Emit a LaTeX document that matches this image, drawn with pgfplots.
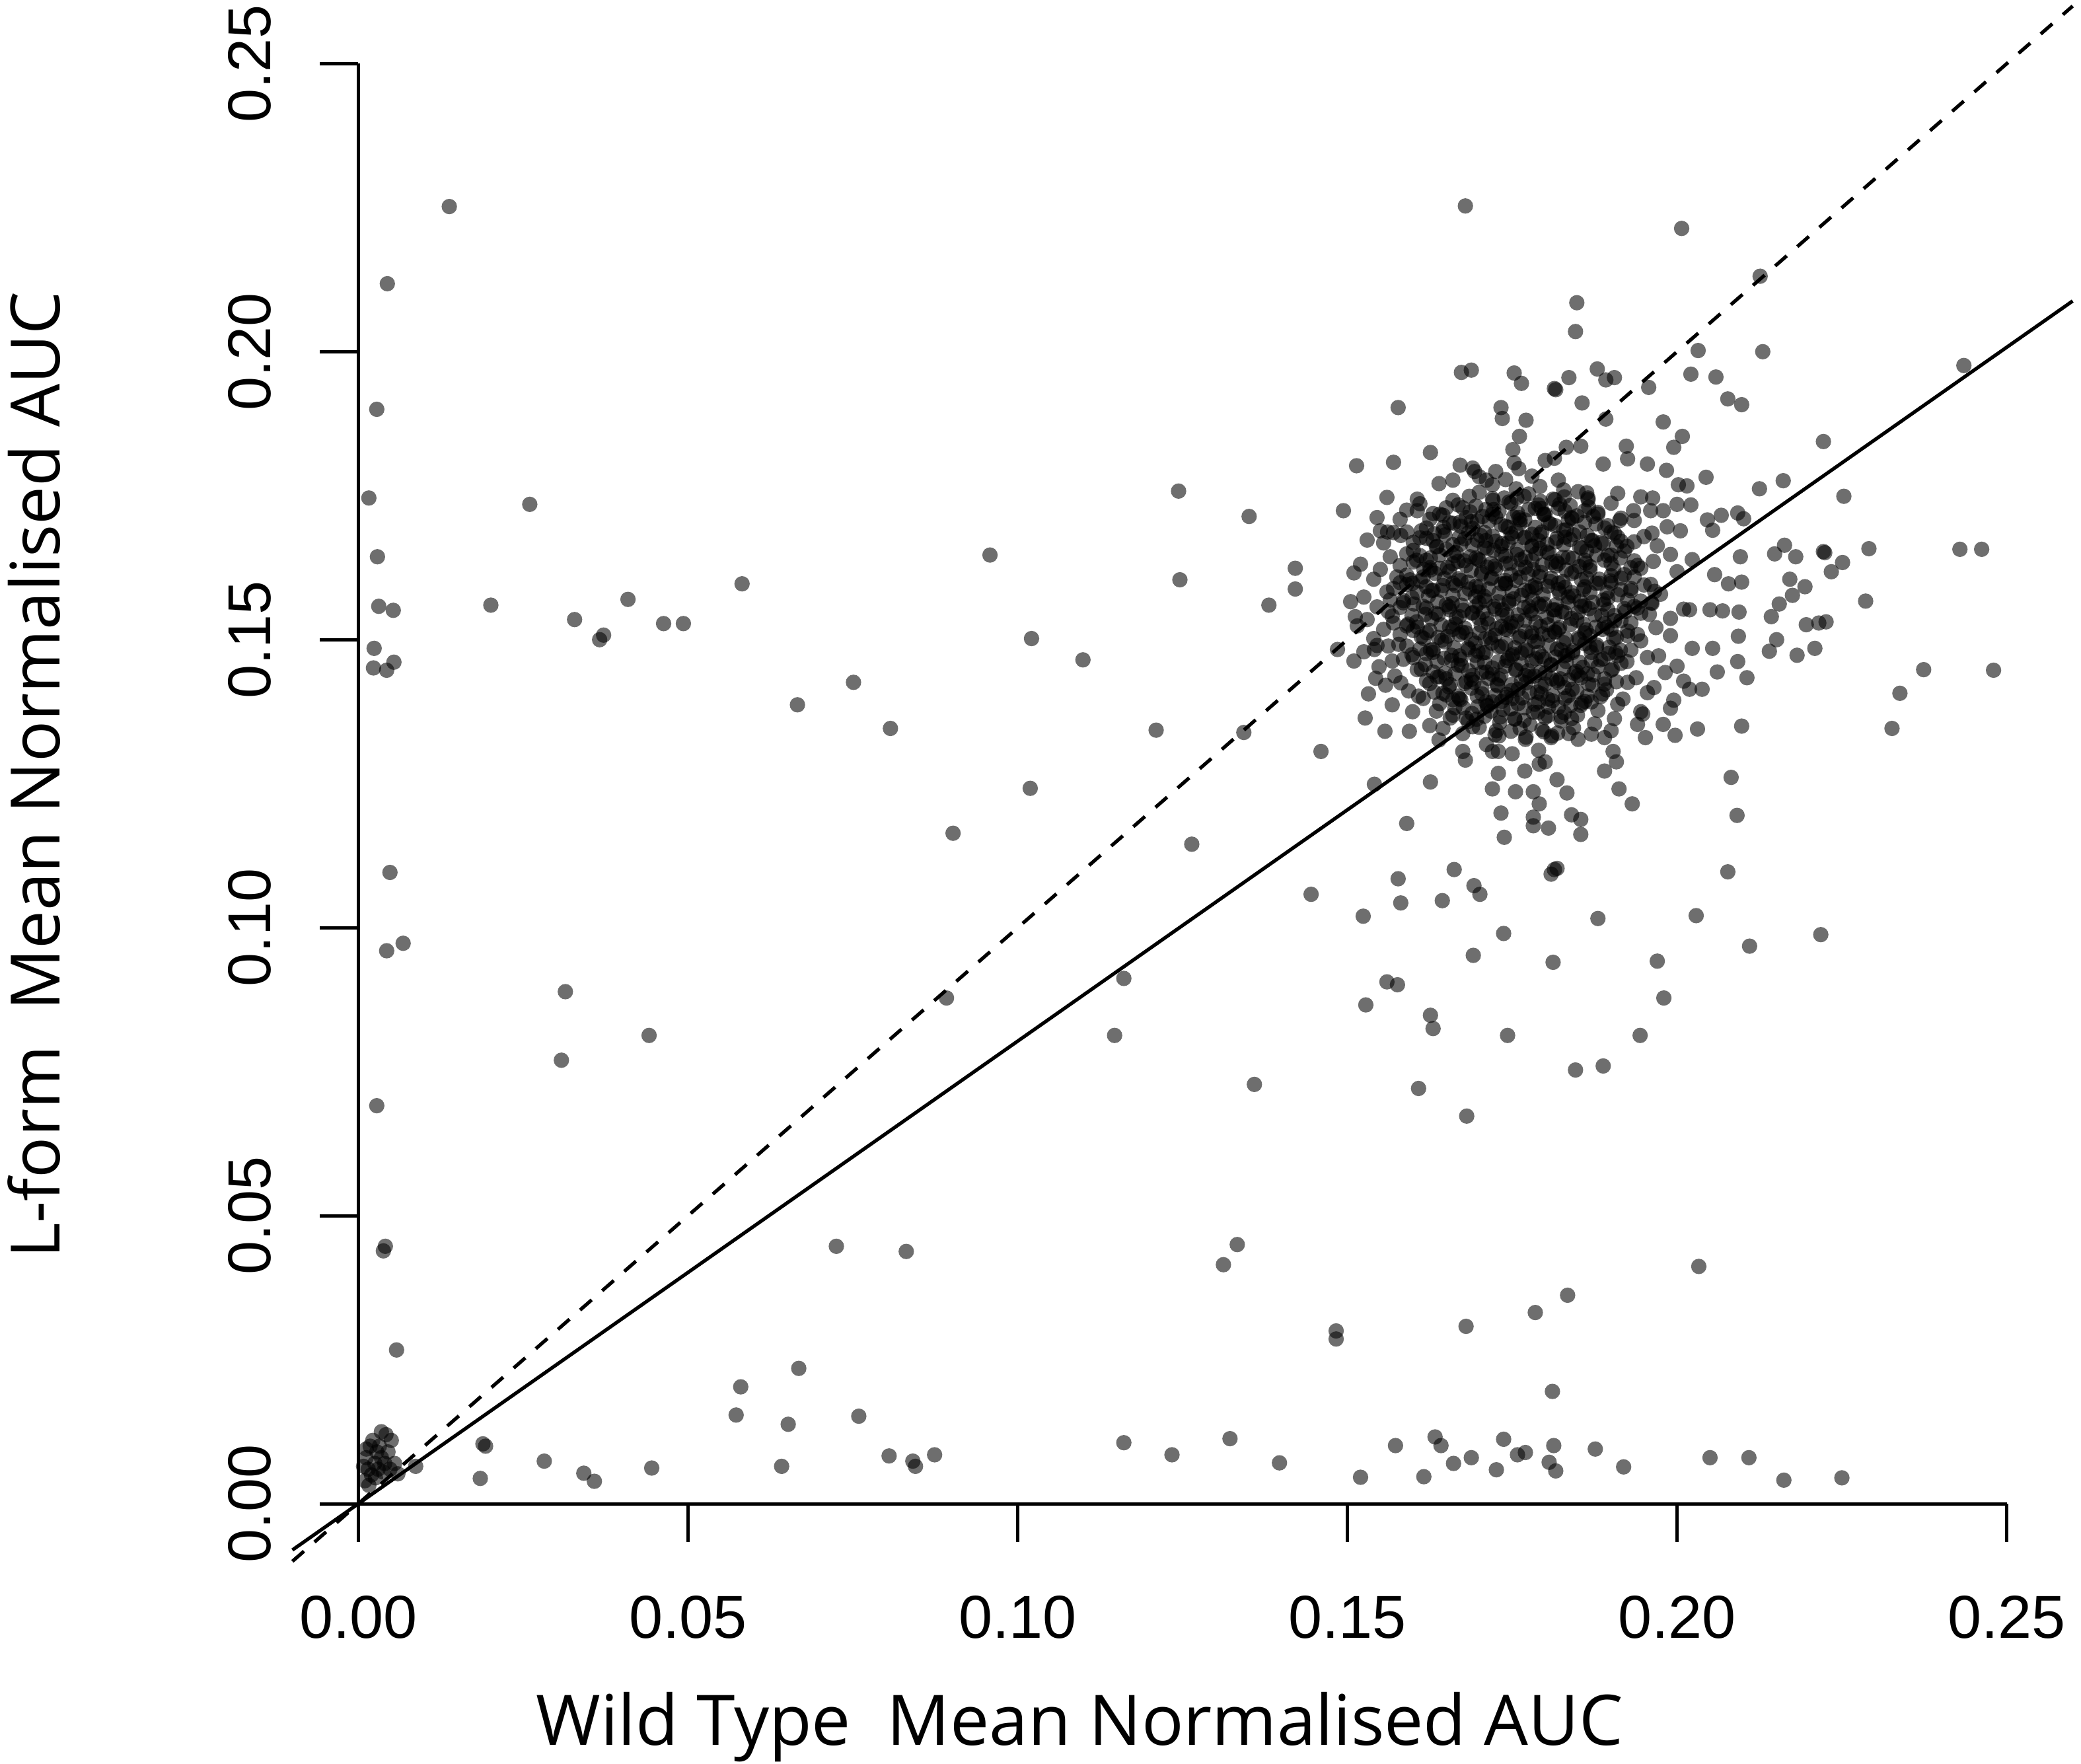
\documentclass[border=0pt]{standalone}
\usepackage{pgfplots}
\pgfplotsset{compat=1.18}
\usepackage{fontspec}
\setmainfont{Liberation Sans}
\newfontfamily\titlefont{Open Sans}
\newcommand{\tickfont}{\fontsize{13}{15}\selectfont}
\newcommand{\labfont}{\titlefont\fontsize{14.6}{17}\selectfont}
\newcommand{\xlabfont}{\titlefont\fontsize{14.95}{17}\selectfont}
\begin{document}
\begin{tikzpicture}
\useasboundingbox (0,0) rectangle (15.68cm,13.29cm);
\begin{axis}[at={(2.203cm,1.526cm)}, anchor=south west, scale only axis,
  width=13.414cm, height=11.718cm,
  xmin=-0.01, xmax=0.26, ymin=-0.01, ymax=0.26,
  axis line style={draw=none}, ticks=none, clip=false]
\addplot[only marks, mark=*, mark size=1.65pt, mark options={draw opacity=0, line width=0pt, fill=black, fill opacity=0.57}] coordinates {
% near origin and left column
(0.0138,0.2252) (0.0044,0.2118) (0.0028,0.1900) (0.0016,0.1746) (0.0029,0.1644) (0.0031,0.1558) (0.0053,0.1551)
(0.0024,0.1485) (0.0023,0.1451) (0.0043,0.1447) (0.0054,0.1461) (0.0048,0.1096) (0.0043,0.0960) (0.0068,0.0973)
(0.0028,0.0691) (0.0038,0.0439) (0.0041,0.0447) (0.0058,0.0267)
(0.0010,0.0040) (0.0015,0.0060) (0.0012,0.0080) (0.0018,0.0100) (0.0020,0.0050) (0.0025,0.0070) (0.0028,0.0090)
(0.0022,0.0110) (0.0030,0.0060) (0.0035,0.0080) (0.0032,0.0100) (0.0040,0.0070) (0.0042,0.0120) (0.0045,0.0090)
(0.0050,0.0110) (0.0008,0.0065) (0.0016,0.0032) (0.0026,0.0045) (0.0038,0.0055) (0.0055,0.0070) (0.0060,0.0052)
(0.0048,0.0060) (0.0087,0.0065) (0.0035,0.0125) (0.0012,0.0095)
% scattered middle
(0.0260,0.1735) (0.0201,0.1560) (0.0328,0.1535) (0.0366,0.1500) (0.0372,0.1508) (0.0409,0.1570) (0.0463,0.1528)
(0.0493,0.1528) (0.0582,0.1597) (0.0958,0.1647) (0.0666,0.1387) (0.0751,0.1426) (0.0807,0.1346) (0.1021,0.1502)
(0.1099,0.1465) (0.1019,0.1242) (0.0902,0.1164) (0.1210,0.1343) (0.1244,0.1758) (0.1246,0.1604) (0.1264,0.1145)
(0.1351,0.1714) (0.1343,0.1339) (0.1381,0.1560) (0.1421,0.1624) (0.1421,0.1588) (0.1460,0.1306) (0.1445,0.1058)
(0.0892,0.0878) (0.0314,0.0889) (0.0308,0.0770) (0.0441,0.0813) (0.1161,0.0912) (0.1147,0.0813) (0.1359,0.0728)
(0.0725,0.0447) (0.0831,0.0438) (0.1333,0.0450) (0.1312,0.0415) (0.1483,0.0300) (0.1483,0.0286) (0.2033,0.0412)
(0.1680,0.0308) (0.1785,0.0332) (0.1834,0.0362) (0.1811,0.0195)
% bottom row
(0.0580,0.0203) (0.0573,0.0154) (0.0668,0.0235) (0.0652,0.0138) (0.0759,0.0152) (0.0642,0.0065) (0.0189,0.0104)
(0.0193,0.0100) (0.0185,0.0044) (0.0282,0.0074) (0.0342,0.0053) (0.0358,0.0039) (0.0445,0.0062) (0.0805,0.0083)
(0.0841,0.0074) (0.0845,0.0065) (0.0874,0.0085) (0.1161,0.0106) (0.1234,0.0085) (0.1322,0.0113) (0.1397,0.0071)
(0.1520,0.0046) (0.1573,0.0101) (0.1616,0.0047) (0.1633,0.0116) (0.1642,0.0101) (0.1661,0.0070) (0.1688,0.0080)
(0.1726,0.0059) (0.1737,0.0112) (0.1758,0.0085) (0.1770,0.0089) (0.1813,0.0101) (0.1806,0.0072) (0.1816,0.0057)
(0.1876,0.0095) (0.1919,0.0064) (0.2050,0.0080) (0.2109,0.0080) (0.2162,0.0041) (0.2250,0.0045)
% below cluster
(0.2218,0.0988) (0.2110,0.0968) (0.1970,0.0942) (0.1980,0.0878) (0.1944,0.0813) (0.1888,0.0760) (0.1846,0.0753)
(0.1812,0.0940) (0.1743,0.0813) (0.1691,0.0952) (0.1681,0.0673) (0.1608,0.0721) (0.1626,0.0848) (0.1630,0.0825)
(0.1560,0.0906) (0.1576,0.0901) (0.1528,0.0866) (0.2029,0.1021) (0.1737,0.0990) (0.1880,0.1016) (0.1524,0.1020)
% upper fringe
(0.1679,0.2253) (0.2007,0.2214) (0.2126,0.2131) (0.1848,0.2085) (0.1846,0.2035) (0.2032,0.2002) (0.2130,0.2000)
(0.2435,0.1976) (0.1673,0.1964) (0.1688,0.1968) (0.1753,0.1963) (0.1764,0.1945) (0.1814,0.1936) (0.1816,0.1934)
(0.1836,0.1955) (0.1879,0.1970) (0.1892,0.1951) (0.1905,0.1955) (0.1957,0.1938) (0.1577,0.1903) (0.1733,0.1903)
(0.1735,0.1884) (0.1771,0.1881) (0.1856,0.1911) (0.1892,0.1883) (0.1979,0.1878) (0.2008,0.1853) (0.1995,0.1834)
(0.1761,0.1853) (0.1751,0.1830) (0.1753,0.1807) (0.1514,0.1802) (0.1570,0.1808) (0.1626,0.1825) (0.1639,0.1771)
(0.1494,0.1724) (0.1606,0.1744) (0.1606,0.1724) (0.1590,0.1687) (0.1561,0.1687) (0.1646,0.1695) (0.1671,0.1704)
(0.1671,0.1803) (0.1693,0.1792) (0.1711,0.1777) (0.1800,0.1811) (0.1814,0.1815) (0.1832,0.1834) (0.1854,0.1836)
(0.1888,0.1805) (0.1923,0.1836) (0.1925,0.1814) (0.1955,0.1805) (0.1984,0.1794) (0.2002,0.1769) (0.1963,0.1746)
(0.1979,0.1724) (0.1934,0.1724) (0.1910,0.1754) (0.1863,0.1755) (0.1962,0.1685) (0.1964,0.1636) (0.1935,0.1670)
(0.1908,0.1663) (0.1626,0.1621) (0.1599,0.1598) (0.1512,0.1540) (0.1545,0.1490) (0.1485,0.1483) (0.1550,0.1689)
(0.1581,0.1681)
% right fringe
(0.2021,0.1961) (0.2059,0.1956) (0.2077,0.1918) (0.2098,0.1908) (0.2222,0.1844) (0.2044,0.1782) (0.2015,0.1767)
(0.2021,0.1734) (0.2125,0.1762) (0.2161,0.1776) (0.2253,0.1749) (0.2046,0.1708) (0.2054,0.1690) (0.2067,0.1716)
(0.2092,0.1720) (0.2101,0.1710) (0.2023,0.1639) (0.2096,0.1644) (0.2057,0.1613) (0.2078,0.1597) (0.2098,0.1600)
(0.2148,0.1649) (0.2163,0.1664) (0.2180,0.1644) (0.2222,0.1653) (0.2224,0.1651) (0.2234,0.1618) (0.2251,0.1634)
(0.2291,0.1658) (0.2429,0.1657) (0.2462,0.1657) (0.2171,0.1605) (0.2194,0.1592) (0.2175,0.1577) (0.2155,0.1562)
(0.2143,0.1540) (0.2196,0.1526) (0.2215,0.1529) (0.2226,0.1531) (0.2286,0.1567) (0.2019,0.1552) (0.2050,0.1552)
(0.2069,0.1550) (0.2094,0.1548) (0.2093,0.1506) (0.2151,0.1500) (0.2140,0.1480) (0.2182,0.1473) (0.2209,0.1485)
(0.2023,0.1485) (0.2054,0.1485) (0.2061,0.1444) (0.2092,0.1462) (0.2106,0.1434) (0.2019,0.1414) (0.2038,0.1414)
(0.2374,0.1448) (0.2480,0.1447) (0.2338,0.1407) (0.2326,0.1346) (0.2031,0.1345) (0.2098,0.1350)
% lower fringe
(0.1541,0.1483) (0.1532,0.1406) (0.1527,0.1364) (0.1557,0.1341) (0.1594,0.1341) (0.1543,0.1433) (0.1568,0.1463)
(0.1581,0.1425) (0.1599,0.1375) (0.1608,0.1402) (0.1639,0.1326) (0.1679,0.1291) (0.1675,0.1306) (0.1720,0.1306)
(0.1711,0.1318) (0.1729,0.1306) (0.1729,0.1268) (0.1720,0.1241) (0.1733,0.1199) (0.1738,0.1157) (0.1769,0.1272)
(0.1791,0.1284) (0.1800,0.1288) (0.1755,0.1236) (0.1782,0.1236) (0.1791,0.1215) (0.1782,0.1192) (0.1782,0.1177)
(0.1805,0.1173) (0.1818,0.1257) (0.1833,0.1234) (0.1840,0.1196) (0.1854,0.1188) (0.1854,0.1162) (0.1809,0.1330)
(0.1836,0.1337) (0.1890,0.1330) (0.1903,0.1306) (0.1908,0.1288) (0.1890,0.1272) (0.1912,0.1241) (0.1932,0.1215)
(0.1948,0.1371) (0.1952,0.1330) (0.1979,0.1353) (0.1997,0.1334) (0.2082,0.1261) (0.2091,0.1195) (0.1541,0.1249)
(0.1626,0.1253) (0.1590,0.1181) (0.2077,0.1097) (0.1662,0.1101) (0.1577,0.1085) (0.1581,0.1043) (0.1644,0.1047)
(0.1692,0.1073) (0.1701,0.1058) (0.1814,0.1101) (0.1818,0.1103) (0.1809,0.1093)
% cluster rows
(0.1560,0.1747) (0.1610,0.1736) (0.1660,0.1742) (0.1695,0.1732) (0.1720,0.1745) (0.1745,0.1739) (0.1768,0.1749) (0.1790,0.1734) (0.1815,0.1743) (0.1838,0.1733) (0.1865,0.1746) (0.1900,0.1737) (0.1945,0.1748) (0.2000,0.1735)
(0.1545,0.1712) (0.1590,0.1725) (0.1630,0.1719) (0.1675,0.1729) (0.1705,0.1714) (0.1730,0.1723) (0.1752,0.1713) (0.1775,0.1726) (0.1798,0.1717) (0.1820,0.1728) (0.1848,0.1715) (0.1880,0.1721) (0.1915,0.1711) (0.1960,0.1724)
(0.1580,0.1709) (0.1620,0.1694) (0.1655,0.1703) (0.1690,0.1693) (0.1715,0.1706) (0.1740,0.1697) (0.1762,0.1708) (0.1785,0.1695) (0.1808,0.1701) (0.1832,0.1691) (0.1860,0.1704) (0.1895,0.1698) (0.1935,0.1707) (0.1985,0.1696)
(0.1530,0.1673) (0.1570,0.1686) (0.1610,0.1677) (0.1645,0.1688) (0.1678,0.1675) (0.1702,0.1681) (0.1725,0.1671) (0.1748,0.1684) (0.1770,0.1678) (0.1795,0.1687) (0.1818,0.1676) (0.1843,0.1682) (0.1872,0.1672) (0.1905,0.1685) (0.1950,0.1679) (0.2005,0.1689)
(0.1555,0.1668) (0.1600,0.1655) (0.1635,0.1661) (0.1665,0.1651) (0.1690,0.1664) (0.1712,0.1658) (0.1735,0.1667) (0.1758,0.1656) (0.1780,0.1662) (0.1803,0.1652) (0.1828,0.1665) (0.1855,0.1659) (0.1885,0.1669) (0.1920,0.1654) (0.1970,0.1663)
(0.1520,0.1631) (0.1565,0.1644) (0.1605,0.1638) (0.1640,0.1647) (0.1668,0.1636) (0.1695,0.1642) (0.1718,0.1632) (0.1740,0.1645) (0.1763,0.1639) (0.1786,0.1649) (0.1810,0.1634) (0.1835,0.1643) (0.1862,0.1633) (0.1895,0.1646) (0.1935,0.1637) (0.1990,0.1648)
(0.1510,0.1616) (0.1550,0.1622) (0.1590,0.1612) (0.1625,0.1625) (0.1655,0.1619) (0.1680,0.1629) (0.1703,0.1614) (0.1725,0.1623) (0.1748,0.1613) (0.1770,0.1626) (0.1793,0.1617) (0.1816,0.1628) (0.1840,0.1615) (0.1868,0.1621) (0.1900,0.1611) (0.1945,0.1624) (0.2000,0.1618)
(0.1540,0.1605) (0.1580,0.1599) (0.1615,0.1609) (0.1645,0.1594) (0.1672,0.1603) (0.1695,0.1593) (0.1718,0.1606) (0.1740,0.1597) (0.1762,0.1608) (0.1785,0.1595) (0.1808,0.1601) (0.1830,0.1591) (0.1855,0.1604) (0.1882,0.1598) (0.1915,0.1607) (0.1960,0.1596)
(0.1525,0.1574) (0.1560,0.1583) (0.1598,0.1573) (0.1630,0.1586) (0.1660,0.1577) (0.1685,0.1588) (0.1708,0.1575) (0.1730,0.1581) (0.1752,0.1571) (0.1775,0.1584) (0.1797,0.1578) (0.1820,0.1587) (0.1843,0.1576) (0.1868,0.1582) (0.1895,0.1572) (0.1930,0.1585) (0.1975,0.1579)
(0.1505,0.1566) (0.1545,0.1557) (0.1585,0.1568) (0.1620,0.1555) (0.1650,0.1561) (0.1676,0.1551) (0.1700,0.1564) (0.1722,0.1558) (0.1745,0.1567) (0.1768,0.1556) (0.1790,0.1562) (0.1812,0.1552) (0.1835,0.1565) (0.1860,0.1559) (0.1888,0.1569) (0.1920,0.1554) (0.1962,0.1563) (0.2010,0.1553)
(0.1530,0.1535) (0.1568,0.1541) (0.1605,0.1531) (0.1638,0.1544) (0.1665,0.1538) (0.1690,0.1547) (0.1712,0.1536) (0.1735,0.1542) (0.1757,0.1532) (0.1780,0.1545) (0.1802,0.1539) (0.1825,0.1549) (0.1848,0.1534) (0.1875,0.1543) (0.1905,0.1533) (0.1945,0.1546) (0.1990,0.1537)
(0.1515,0.1524) (0.1555,0.1518) (0.1592,0.1527) (0.1625,0.1516) (0.1655,0.1522) (0.1680,0.1512) (0.1703,0.1525) (0.1726,0.1519) (0.1748,0.1529) (0.1770,0.1514) (0.1793,0.1523) (0.1815,0.1513) (0.1838,0.1526) (0.1862,0.1517) (0.1890,0.1528) (0.1925,0.1515) (0.1968,0.1521)
(0.1540,0.1502) (0.1578,0.1492) (0.1612,0.1505) (0.1643,0.1499) (0.1670,0.1509) (0.1694,0.1494) (0.1717,0.1503) (0.1740,0.1493) (0.1762,0.1506) (0.1784,0.1497) (0.1806,0.1508) (0.1828,0.1495) (0.1852,0.1501) (0.1878,0.1491) (0.1908,0.1504) (0.1945,0.1498) (0.1990,0.1507)
(0.1525,0.1479) (0.1562,0.1489) (0.1598,0.1474) (0.1630,0.1483) (0.1658,0.1473) (0.1683,0.1486) (0.1706,0.1477) (0.1729,0.1488) (0.1751,0.1475) (0.1773,0.1481) (0.1795,0.1471) (0.1818,0.1484) (0.1842,0.1478) (0.1868,0.1487) (0.1896,0.1476) (0.1930,0.1482) (0.1972,0.1472)
(0.1510,0.1463) (0.1548,0.1453) (0.1585,0.1466) (0.1618,0.1457) (0.1647,0.1468) (0.1673,0.1455) (0.1697,0.1461) (0.1720,0.1451) (0.1742,0.1464) (0.1764,0.1458) (0.1786,0.1467) (0.1809,0.1456) (0.1832,0.1462) (0.1857,0.1452) (0.1884,0.1465) (0.1915,0.1459) (0.1955,0.1469) (0.2000,0.1454)
(0.1572,0.1437) (0.1606,0.1448) (0.1636,0.1435) (0.1663,0.1441) (0.1688,0.1431) (0.1711,0.1444) (0.1733,0.1438) (0.1755,0.1447) (0.1777,0.1436) (0.1800,0.1442) (0.1823,0.1432) (0.1847,0.1445) (0.1873,0.1439) (0.1902,0.1449) (0.1938,0.1434) (0.1982,0.1443)
(0.1558,0.1421) (0.1593,0.1411) (0.1625,0.1424) (0.1654,0.1418) (0.1680,0.1427) (0.1704,0.1416) (0.1727,0.1422) (0.1749,0.1412) (0.1771,0.1425) (0.1794,0.1419) (0.1817,0.1429) (0.1841,0.1414) (0.1866,0.1423) (0.1893,0.1413) (0.1925,0.1426) (0.1965,0.1417) (0.2010,0.1428)
(0.1615,0.1398) (0.1645,0.1407) (0.1672,0.1396) (0.1697,0.1402) (0.1720,0.1392) (0.1742,0.1405) (0.1765,0.1399) (0.1788,0.1409) (0.1811,0.1394) (0.1835,0.1403) (0.1860,0.1393) (0.1887,0.1406) (0.1918,0.1397) (0.1955,0.1408) (0.1995,0.1395)
(0.1568,0.1387) (0.1635,0.1376) (0.1663,0.1382) (0.1689,0.1372) (0.1713,0.1385) (0.1736,0.1379) (0.1759,0.1389) (0.1782,0.1374) (0.1805,0.1383) (0.1829,0.1373) (0.1854,0.1386) (0.1880,0.1377) (0.1910,0.1388) (0.1945,0.1375) (0.1990,0.1381)
(0.1625,0.1351) (0.1656,0.1364) (0.1683,0.1358) (0.1708,0.1367) (0.1731,0.1356) (0.1754,0.1362) (0.1777,0.1352) (0.1800,0.1365) (0.1824,0.1359) (0.1849,0.1369) (0.1875,0.1354) (0.1905,0.1363) (0.1940,0.1353)
(0.1645,0.1346) (0.1675,0.1337) (0.1700,0.1348) (0.1724,0.1335) (0.1748,0.1341) (0.1771,0.1331) (0.1795,0.1344) (0.1819,0.1338) (0.1843,0.1347) (0.1870,0.1336) (0.1900,0.1342)
% dense core
(0.1700,0.1756) (0.1738,0.1746) (0.1775,0.1753) (0.1812,0.1744) (0.1850,0.1757)
(0.1668,0.1734) (0.1710,0.1726) (0.1748,0.1737) (0.1785,0.1728) (0.1822,0.1735) (0.1860,0.1724)
(0.1645,0.1716) (0.1688,0.1705) (0.1725,0.1713) (0.1762,0.1702) (0.1798,0.1718) (0.1835,0.1707) (0.1873,0.1714)
(0.1632,0.1684) (0.1672,0.1697) (0.1708,0.1686) (0.1744,0.1695) (0.1780,0.1683) (0.1815,0.1698) (0.1852,0.1687) (0.1890,0.1694)
(0.1620,0.1676) (0.1660,0.1665) (0.1697,0.1673) (0.1733,0.1662) (0.1768,0.1677) (0.1803,0.1666) (0.1838,0.1674) (0.1875,0.1663) (0.1915,0.1671)
(0.1610,0.1646) (0.1650,0.1657) (0.1686,0.1644) (0.1722,0.1655) (0.1757,0.1648) (0.1792,0.1658) (0.1827,0.1643) (0.1863,0.1654) (0.1900,0.1647)
(0.1600,0.1635) (0.1640,0.1624) (0.1677,0.1637) (0.1712,0.1626) (0.1747,0.1633) (0.1782,0.1622) (0.1817,0.1636) (0.1852,0.1627) (0.1890,0.1638) (0.1930,0.1625)
(0.1595,0.1604) (0.1633,0.1615) (0.1669,0.1606) (0.1704,0.1617) (0.1739,0.1603) (0.1774,0.1614) (0.1809,0.1607) (0.1845,0.1618) (0.1882,0.1605) (0.1920,0.1613)
(0.1590,0.1596) (0.1628,0.1585) (0.1664,0.1594) (0.1699,0.1583) (0.1734,0.1597) (0.1769,0.1586) (0.1804,0.1593) (0.1840,0.1582) (0.1877,0.1598) (0.1915,0.1587) (0.1950,0.1595)
(0.1585,0.1564) (0.1623,0.1576) (0.1659,0.1563) (0.1694,0.1575) (0.1729,0.1566) (0.1764,0.1577) (0.1799,0.1562) (0.1835,0.1574) (0.1872,0.1565) (0.1910,0.1578) (0.1945,0.1567)
(0.1580,0.1556) (0.1618,0.1544) (0.1654,0.1557) (0.1689,0.1546) (0.1724,0.1553) (0.1759,0.1543) (0.1794,0.1558) (0.1830,0.1547) (0.1867,0.1554) (0.1905,0.1542) (0.1940,0.1555)
(0.1590,0.1524) (0.1628,0.1536) (0.1664,0.1527) (0.1699,0.1538) (0.1734,0.1523) (0.1769,0.1534) (0.1804,0.1526) (0.1840,0.1537) (0.1877,0.1522) (0.1915,0.1533)
(0.1600,0.1516) (0.1638,0.1504) (0.1674,0.1513) (0.1709,0.1502) (0.1744,0.1517) (0.1779,0.1506) (0.1814,0.1514) (0.1850,0.1503) (0.1887,0.1518) (0.1925,0.1507)
(0.1610,0.1484) (0.1648,0.1496) (0.1684,0.1483) (0.1719,0.1494) (0.1754,0.1486) (0.1789,0.1497) (0.1824,0.1482) (0.1860,0.1493) (0.1897,0.1487)
(0.1620,0.1476) (0.1658,0.1464) (0.1694,0.1473) (0.1729,0.1462) (0.1764,0.1477) (0.1799,0.1466) (0.1834,0.1474) (0.1870,0.1463) (0.1907,0.1478)
(0.1630,0.1444) (0.1668,0.1456) (0.1704,0.1443) (0.1739,0.1454) (0.1774,0.1446) (0.1809,0.1457) (0.1844,0.1442) (0.1880,0.1453)
(0.1640,0.1436) (0.1678,0.1424) (0.1714,0.1433) (0.1749,0.1422) (0.1784,0.1437) (0.1819,0.1426) (0.1854,0.1434) (0.1890,0.1423)
(0.1650,0.1404) (0.1688,0.1416) (0.1724,0.1403) (0.1759,0.1414) (0.1794,0.1406) (0.1829,0.1417) (0.1864,0.1402)
(0.1660,0.1396) (0.1698,0.1384) (0.1734,0.1393) (0.1769,0.1382) (0.1804,0.1397) (0.1839,0.1386)
(0.1680,0.1364) (0.1718,0.1376) (0.1754,0.1363) (0.1789,0.1374) (0.1824,0.1366)
% densest core
(0.1720,0.1769) (0.1756,0.1762) (0.1792,0.1766) (0.1828,0.1760)
(0.1685,0.1749) (0.1721,0.1742) (0.1757,0.1746) (0.1793,0.1740) (0.1829,0.1748) (0.1865,0.1743)
(0.1650,0.1729) (0.1686,0.1722) (0.1722,0.1726) (0.1758,0.1720) (0.1794,0.1728) (0.1830,0.1723) (0.1866,0.1730)
(0.1625,0.1709) (0.1661,0.1702) (0.1697,0.1706) (0.1733,0.1700) (0.1769,0.1708) (0.1805,0.1703) (0.1841,0.1710) (0.1877,0.1701) (0.1913,0.1707)
(0.1612,0.1689) (0.1648,0.1682) (0.1684,0.1686) (0.1720,0.1680) (0.1756,0.1688) (0.1792,0.1683) (0.1828,0.1690) (0.1864,0.1681) (0.1900,0.1687)
(0.1600,0.1669) (0.1636,0.1662) (0.1672,0.1666) (0.1708,0.1660) (0.1744,0.1668) (0.1780,0.1663) (0.1816,0.1670) (0.1852,0.1661) (0.1888,0.1667) (0.1924,0.1662)
(0.1590,0.1649) (0.1626,0.1642) (0.1662,0.1646) (0.1698,0.1640) (0.1734,0.1648) (0.1770,0.1643) (0.1806,0.1650) (0.1842,0.1641) (0.1878,0.1647) (0.1914,0.1642)
(0.1580,0.1629) (0.1616,0.1622) (0.1652,0.1626) (0.1688,0.1620) (0.1724,0.1628) (0.1760,0.1623) (0.1796,0.1630) (0.1832,0.1621) (0.1868,0.1627) (0.1904,0.1622) (0.1940,0.1629)
(0.1575,0.1609) (0.1611,0.1602) (0.1647,0.1606) (0.1683,0.1600) (0.1719,0.1608) (0.1755,0.1603) (0.1791,0.1610) (0.1827,0.1601) (0.1863,0.1607) (0.1899,0.1602) (0.1935,0.1609)
(0.1570,0.1589) (0.1606,0.1582) (0.1642,0.1586) (0.1678,0.1580) (0.1714,0.1588) (0.1750,0.1583) (0.1786,0.1590) (0.1822,0.1581) (0.1858,0.1587) (0.1894,0.1582) (0.1930,0.1589) (0.1966,0.1584)
(0.1565,0.1569) (0.1601,0.1562) (0.1637,0.1566) (0.1673,0.1560) (0.1709,0.1568) (0.1745,0.1563) (0.1781,0.1570) (0.1817,0.1561) (0.1853,0.1567) (0.1889,0.1562) (0.1925,0.1569) (0.1961,0.1564)
(0.1562,0.1549) (0.1598,0.1542) (0.1634,0.1546) (0.1670,0.1540) (0.1706,0.1548) (0.1742,0.1543) (0.1778,0.1550) (0.1814,0.1541) (0.1850,0.1547) (0.1886,0.1542) (0.1922,0.1549) (0.1958,0.1544)
(0.1570,0.1529) (0.1606,0.1522) (0.1642,0.1526) (0.1678,0.1520) (0.1714,0.1528) (0.1750,0.1523) (0.1786,0.1530) (0.1822,0.1521) (0.1858,0.1527) (0.1894,0.1522) (0.1930,0.1529)
(0.1580,0.1509) (0.1616,0.1502) (0.1652,0.1506) (0.1688,0.1500) (0.1724,0.1508) (0.1760,0.1503) (0.1796,0.1510) (0.1832,0.1501) (0.1868,0.1507) (0.1904,0.1502) (0.1940,0.1509)
(0.1590,0.1489) (0.1626,0.1482) (0.1662,0.1486) (0.1698,0.1480) (0.1734,0.1488) (0.1770,0.1483) (0.1806,0.1490) (0.1842,0.1481) (0.1878,0.1487) (0.1914,0.1482)
(0.1600,0.1469) (0.1636,0.1462) (0.1672,0.1466) (0.1708,0.1460) (0.1744,0.1468) (0.1780,0.1463) (0.1816,0.1470) (0.1852,0.1461) (0.1888,0.1467) (0.1924,0.1462)
(0.1612,0.1449) (0.1648,0.1442) (0.1684,0.1446) (0.1720,0.1440) (0.1756,0.1448) (0.1792,0.1443) (0.1828,0.1450) (0.1864,0.1441) (0.1900,0.1447)
(0.1620,0.1429) (0.1656,0.1422) (0.1692,0.1426) (0.1728,0.1420) (0.1764,0.1428) (0.1800,0.1423) (0.1836,0.1430) (0.1872,0.1421) (0.1908,0.1427)
(0.1632,0.1409) (0.1668,0.1402) (0.1704,0.1406) (0.1740,0.1400) (0.1776,0.1408) (0.1812,0.1403) (0.1848,0.1410) (0.1884,0.1401)
(0.1640,0.1389) (0.1676,0.1382) (0.1712,0.1386) (0.1748,0.1380) (0.1784,0.1388) (0.1820,0.1383) (0.1856,0.1390)
(0.1660,0.1369) (0.1696,0.1362) (0.1732,0.1366) (0.1768,0.1360) (0.1804,0.1368) (0.1840,0.1363)
(0.1690,0.1349) (0.1726,0.1342) (0.1762,0.1346) (0.1798,0.1340)
% black centre
(0.1690,0.1798) (0.1725,0.1792) (0.1760,0.1797)
(0.1660,0.1777) (0.1700,0.1783) (0.1740,0.1778) (0.1780,0.1784) (0.1820,0.1777)
(0.1640,0.1718) (0.1680,0.1712) (0.1720,0.1718) (0.1760,0.1712) (0.1800,0.1718) (0.1840,0.1712) (0.1880,0.1718)
(0.1630,0.1672) (0.1670,0.1678) (0.1710,0.1672) (0.1750,0.1678) (0.1790,0.1672) (0.1830,0.1678) (0.1870,0.1672) (0.1910,0.1678)
(0.1620,0.1638) (0.1660,0.1632) (0.1700,0.1638) (0.1740,0.1632) (0.1780,0.1638) (0.1820,0.1632) (0.1860,0.1638) (0.1900,0.1632)
(0.1620,0.1592) (0.1660,0.1598) (0.1700,0.1592) (0.1740,0.1598) (0.1780,0.1592) (0.1820,0.1598) (0.1860,0.1592) (0.1900,0.1598)
(0.1615,0.1558) (0.1655,0.1552) (0.1695,0.1558) (0.1735,0.1552) (0.1775,0.1558) (0.1815,0.1552) (0.1855,0.1558) (0.1895,0.1552) (0.1935,0.1558)
(0.1620,0.1512) (0.1660,0.1518) (0.1700,0.1512) (0.1740,0.1518) (0.1780,0.1512) (0.1820,0.1518) (0.1860,0.1512) (0.1900,0.1518)
(0.1630,0.1478) (0.1670,0.1472) (0.1710,0.1478) (0.1750,0.1472) (0.1790,0.1478) (0.1830,0.1472) (0.1870,0.1478) (0.1910,0.1472)
(0.1650,0.1432) (0.1690,0.1438) (0.1730,0.1432) (0.1770,0.1438) (0.1810,0.1432) (0.1850,0.1438) (0.1890,0.1432)
(0.1670,0.1398) (0.1710,0.1392) (0.1750,0.1398) (0.1790,0.1392) (0.1830,0.1398) (0.1870,0.1392)
(0.1730,0.1333) (0.1770,0.1327) (0.1810,0.1333) (0.1850,0.1327)
(0.1750,0.1302) (0.1790,0.1308)
};
\addplot[black, line width=0.75pt, dash pattern=on 3.3pt off 3.0pt] coordinates {(-0.01,-0.01) (0.26,0.26)};
\addplot[black, line width=0.75pt] coordinates {(-0.01,-0.00803) (0.26,0.2088)};
% axes
\draw[line width=0.7pt] (axis cs:0,0) -- (axis cs:0.25,0);
\draw[line width=0.7pt] (axis cs:0,0) -- (axis cs:0,0.25);
\draw[line width=0.7pt]
  (axis cs:0,0) -- ([yshift=-0.29cm]axis cs:0,0)
  (axis cs:0.05,0) -- ([yshift=-0.29cm]axis cs:0.05,0)
  (axis cs:0.10,0) -- ([yshift=-0.29cm]axis cs:0.10,0)
  (axis cs:0.15,0) -- ([yshift=-0.29cm]axis cs:0.15,0)
  (axis cs:0.20,0) -- ([yshift=-0.29cm]axis cs:0.20,0)
  (axis cs:0.25,0) -- ([yshift=-0.29cm]axis cs:0.25,0)
  (axis cs:0,0) -- ([xshift=-0.29cm]axis cs:0,0)
  (axis cs:0,0.05) -- ([xshift=-0.29cm]axis cs:0,0.05)
  (axis cs:0,0.10) -- ([xshift=-0.29cm]axis cs:0,0.10)
  (axis cs:0,0.15) -- ([xshift=-0.29cm]axis cs:0,0.15)
  (axis cs:0,0.20) -- ([xshift=-0.29cm]axis cs:0,0.20)
  (axis cs:0,0.25) -- ([xshift=-0.29cm]axis cs:0,0.25);
\node[inner sep=0, font=\tickfont] at ([yshift=-0.855cm]axis cs:0,0) {0.00};
\node[inner sep=0, font=\tickfont] at ([yshift=-0.855cm]axis cs:0.05,0) {0.05};
\node[inner sep=0, font=\tickfont] at ([yshift=-0.855cm]axis cs:0.10,0) {0.10};
\node[inner sep=0, font=\tickfont] at ([yshift=-0.855cm]axis cs:0.15,0) {0.15};
\node[inner sep=0, font=\tickfont] at ([yshift=-0.855cm]axis cs:0.20,0) {0.20};
\node[inner sep=0, font=\tickfont] at ([yshift=-0.855cm]axis cs:0.25,0) {0.25};
\node[inner sep=0, font=\tickfont, rotate=90] at ([xshift=-0.82cm]axis cs:0,0) {0.00};
\node[inner sep=0, font=\tickfont, rotate=90] at ([xshift=-0.82cm]axis cs:0,0.05) {0.05};
\node[inner sep=0, font=\tickfont, rotate=90] at ([xshift=-0.82cm]axis cs:0,0.10) {0.10};
\node[inner sep=0, font=\tickfont, rotate=90] at ([xshift=-0.82cm]axis cs:0,0.15) {0.15};
\node[inner sep=0, font=\tickfont, rotate=90] at ([xshift=-0.82cm]axis cs:0,0.20) {0.20};
\node[inner sep=0, font=\tickfont, rotate=90] at ([xshift=-0.82cm]axis cs:0,0.25) {0.25};
\node[inner sep=0, anchor=base, font=\xlabfont] at ([yshift=-1.82cm]axis cs:0.1094,0) {Wild Type\ \ Mean Normalised AUC};
\node[inner sep=0, anchor=base, rotate=90, font=\labfont] at ([xshift=-2.25cm]axis cs:0,0.1265) {L-form\ \ Mean Normalised AUC};
\end{axis}
\end{tikzpicture}
\end{document}
